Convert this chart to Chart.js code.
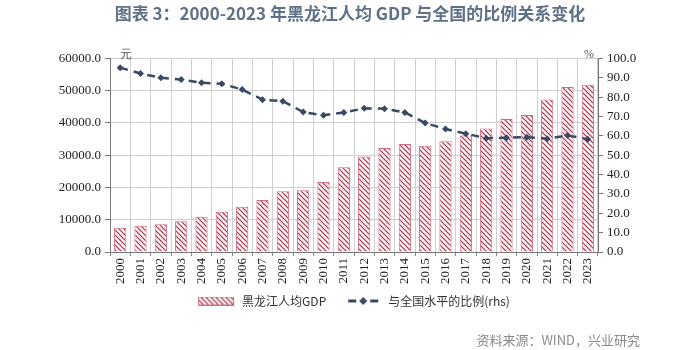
<!DOCTYPE html>
<html lang="zh">
<head>
<meta charset="UTF-8">
<title>黑龙江人均GDP</title>
<script src="https://cdn.jsdelivr.net/npm/chart.js"></script>
<style>
    body { margin: 0; background: #fff; }
    #wrap { position: relative; width: 700px; height: 350px; }
    #source {
        position: absolute; right: 60px; top: 330px;
        font: 13px "Noto Sans CJK SC", sans-serif; color: #8a8a8a;
    }
</style>
</head>
<body>
<div id="wrap">
    <canvas id="gdpChart" width="700" height="350"></canvas>
    <div id="source">资料来源：WIND，兴业研究</div>
</div>
<script>
const years = ['2000','2001','2002','2003','2004','2005','2006','2007','2008','2009','2010','2011',
               '2012','2013','2014','2015','2016','2017','2018','2019','2020','2021','2022','2023'];
const gdpPerCapita = [7500, 8100, 8600, 9550, 10900, 12450, 14000, 16100, 18800, 19100, 21700, 26300,
                      29600, 32200, 33500, 32900, 34300, 36100, 38300, 41200, 42450, 47300, 51100, 51800];
const ratioToNational = [95.2, 92.2, 90.0, 89.1, 87.4, 86.9, 83.9, 78.7, 77.9, 72.3, 70.6, 72.1,
                         74.2, 74.0, 72.1, 66.6, 63.5, 61.1, 58.8, 59.0, 59.3, 58.5, 60.2, 58.3];
const gdpLabel = '黑龙江人均GDP';
const ratioLabel = '与全国水平的比例(rhs)';

const barRed = '#a8324c';
const lineNavy = '#3b4863';
const ICON_W = 46;

// diagonal hatch
function makeHatch() {
    const c = document.createElement('canvas');
    c.width = 5; c.height = 5;
    const g = c.getContext('2d');
    g.fillStyle = '#fdf4f5';
    g.fillRect(0, 0, 5, 5);
    g.strokeStyle = barRed;
    g.lineWidth = 1.2;
    g.beginPath();
    g.moveTo(-1, -1); g.lineTo(6, 6);
    g.moveTo(-1, 4); g.lineTo(1, 6);
    g.moveTo(4, -1); g.lineTo(6, 1);
    g.stroke();
    return g.createPattern(c, 'repeat');
}
const hatch = makeHatch();

// legend icons are drawn inside a wider transparent canvas to get the spacing right
function barIcon() {
    const c = document.createElement('canvas');
    c.width = ICON_W; c.height = 9;
    const g = c.getContext('2d');
    g.fillStyle = hatch;
    g.fillRect(8, 0, 36, 9);
    g.strokeStyle = '#d07080';
    g.lineWidth = 1;
    g.strokeRect(8.5, 0.5, 35, 8);
    return c;
}
function lineIcon() {
    const c = document.createElement('canvas');
    c.width = ICON_W; c.height = 10;
    const g = c.getContext('2d');
    const x0 = 12;
    g.strokeStyle = lineNavy;
    g.lineWidth = 3;
    g.beginPath();
    g.moveTo(x0, 5); g.lineTo(x0 + 8, 5);
    g.moveTo(x0 + 22, 5); g.lineTo(x0 + 30, 5);
    g.stroke();
    g.fillStyle = lineNavy;
    g.beginPath();
    g.moveTo(x0 + 15, 1); g.lineTo(x0 + 19, 5); g.lineTo(x0 + 15, 9); g.lineTo(x0 + 11, 5);
    g.closePath(); g.fill();
    return c;
}

const unitLabels = {
    id: 'unitLabels',
    afterDraw(chart) {
        const { ctx, chartArea } = chart;
        ctx.save();
        ctx.font = '12px "Liberation Serif", serif';
        ctx.fillStyle = '#555';
        ctx.textBaseline = 'bottom';
        ctx.textAlign = 'left';
        ctx.fillText('元', chartArea.left + 10, chartArea.top + 2);
        ctx.textAlign = 'right';
        ctx.fillText('%', chartArea.right - 4, chartArea.top + 2);
        ctx.restore();
    }
};

const tickFont = { family: '"Liberation Serif", serif', size: 13 };

new Chart(document.getElementById('gdpChart'), {
    data: {
        labels: years,
        datasets: [
            {
                type: 'line',
                label: ratioLabel,
                data: ratioToNational,
                yAxisID: 'yRight',
                borderColor: lineNavy,
                backgroundColor: lineNavy,
                borderWidth: 2.5,
                borderDash: [8, 6],
                pointStyle: 'rectRot',
                pointRadius: 3.5,
                pointBorderWidth: 0,
                tension: 0,
                order: 0
            },
            {
                type: 'bar',
                label: gdpLabel,
                data: gdpPerCapita,
                yAxisID: 'yLeft',
                backgroundColor: hatch,
                borderColor: '#d06a7c',
                borderWidth: 1,
                barPercentage: 0.6,
                categoryPercentage: 1,
                order: 1
            }
        ]
    },
    options: {
        responsive: false,
        animation: false,
        layout: { padding: { bottom: 33 } },
        plugins: {
            title: {
                display: true,
                text: '图表 3：2000-2023 年黑龙江人均 GDP 与全国的比例关系变化',
                color: '#5f7189',
                font: { family: '"Noto Sans CJK SC", sans-serif', size: 17, weight: 'bold' },
                padding: { top: 3, bottom: 35 }
            },
            legend: {
                position: 'bottom',
                labels: {
                    usePointStyle: true,
                    pointStyleWidth: ICON_W,
                    padding: 10,
                    color: '#333',
                    font: { family: '"Noto Sans CJK SC", sans-serif', size: 12 },
                    generateLabels: () => [
                        { text: gdpLabel, pointStyle: barIcon(), lineWidth: 0, strokeStyle: 'transparent', fillStyle: 'transparent', fontColor: '#333', datasetIndex: 1 },
                        { text: ratioLabel, pointStyle: lineIcon(), lineWidth: 0, strokeStyle: 'transparent', fillStyle: 'transparent', fontColor: '#333', datasetIndex: 0 }
                    ]
                }
            },
            tooltip: { enabled: false }
        },
        scales: {
            x: {
                offset: true,
                grid: { color: '#cfcfcf', offset: true, tickLength: 4, tickColor: '#888' },
                border: { color: '#777' },
                ticks: { minRotation: 90, maxRotation: 90, color: '#222', font: tickFont, padding: 2 },
                afterFit(scale) { scale.height = 33; }
            },
            yLeft: {
                position: 'left',
                min: 0, max: 60000,
                ticks: { stepSize: 10000, color: '#222', font: tickFont, padding: 4,
                         callback: v => v.toFixed(1) },
                grid: { color: '#cfcfcf', tickLength: 5, tickColor: '#777' },
                border: { color: '#777' },
                afterFit(scale) { scale.width = 110; }
            },
            yRight: {
                position: 'right',
                min: 0, max: 100,
                ticks: { stepSize: 10, autoSkip: false, color: '#222', font: tickFont, padding: 4,
                         callback: v => v.toFixed(1) },
                grid: { drawOnChartArea: false, tickLength: 5, tickColor: '#777' },
                border: { color: '#777' },
                afterFit(scale) { scale.width = 102; }
            }
        }
    },
    plugins: [unitLabels]
});
</script>
</body>
</html>
